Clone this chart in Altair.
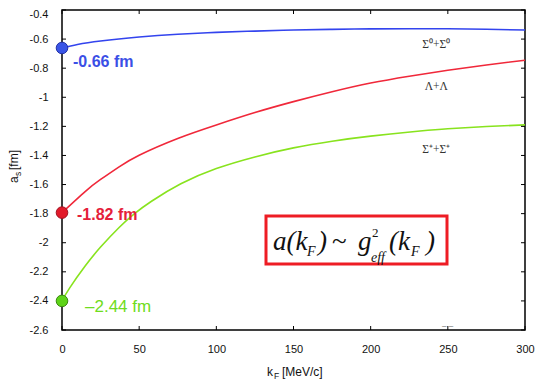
import altair as alt
import pandas as pd

# ---- data ----
series_names = ["Σ⁰+Σ⁰", "Λ+Λ", "Σ⁺+Σ⁺"]
series_colors = ["#3344ee", "#f0283a", "#88e31e"]

kf_blue = [0, 10, 25, 50, 75, 100, 125, 150, 175, 200, 225, 250, 275, 300]
a_blue = [-0.661, -0.637, -0.613, -0.586, -0.567, -0.554, -0.545, -0.538, -0.533, -0.530, -0.529, -0.529, -0.532, -0.538]

kf_red = [0, 15, 25, 37, 50, 75, 100, 125, 150, 175, 200, 225, 250, 275, 300]
a_red = [-1.793, -1.648, -1.565, -1.478, -1.398, -1.283, -1.19, -1.105, -1.03, -0.962, -0.902, -0.855, -0.814, -0.778, -0.745]

kf_green = [0, 5, 15, 25, 37, 47, 58, 77, 100, 125, 150, 175, 200, 232, 250, 275, 300]
a_green = [-2.40, -2.31, -2.16, -2.03, -1.895, -1.80, -1.715, -1.595, -1.49, -1.41, -1.348, -1.302, -1.267, -1.232, -1.216, -1.201, -1.19]

start_kf = [0, 0, 0]
start_a = [-0.661, -1.793, -2.40]
start_labels = ["-0.66 fm", "-1.82 fm", "\u20132.44 fm"]

x_ticks = [0, 50, 100, 150, 200, 250, 300]
y_ticks = [-0.4, -0.6, -0.8, -1.0, -1.2, -1.4, -1.6, -1.8, -2.0, -2.2, -2.4, -2.6]

# ---- tables ----
rows = []
for name, ks, vs in zip(series_names, [kf_blue, kf_red, kf_green], [a_blue, a_red, a_green]):
    for k, v in zip(ks, vs):
        rows.append({"series": name, "kF": k, "a": v})
curves = pd.DataFrame(rows)
starts = pd.DataFrame({"series": series_names, "kF": start_kf, "a": start_a, "label": start_labels})
xt = pd.DataFrame({"kF": x_ticks})
yt = pd.DataFrame({"a": y_ticks})
one = pd.DataFrame({"d": [0]})

W, H = 463, 320
SANS = "Liberation Sans"
SERIF = "Liberation Serif"

xscale = alt.Scale(domain=[0, 300], nice=False, zero=False)
yscale = alt.Scale(domain=[-2.6, -0.4], nice=False, zero=False)
color = alt.Color("series:N", scale=alt.Scale(domain=series_names, range=series_colors), legend=None)

xaxis = alt.Axis(values=x_ticks, ticks=False, domain=False, grid=False, title=None,
                 labelFont=SANS, labelFontSize=11, labelColor="#111", labelPadding=13,
                 labelOverlap=False, labelFlush=False,
                 labelExpr="replace(datum.label, '\u2212', '-')")
yaxis = alt.Axis(values=y_ticks, ticks=False, domain=False, grid=False, title=None,
                 labelFont=SANS, labelFontSize=11, labelColor="#111", labelPadding=14,
                 labelOverlap=False, labelFlush=False,
                 labelOffset={"condition": {"test": "datum.value > -0.45", "value": 4}, "value": 0},
                 format="~g", labelExpr="replace(datum.label, '\u2212', '-')")

X = alt.X("kF:Q", scale=xscale, axis=xaxis)
Y = alt.Y("a:Q", scale=yscale, axis=yaxis)

lines = alt.Chart(curves).mark_line(strokeWidth=1.6, interpolate="natural").encode(
    x=X, y=Y, color=color, detail="series:N")

pts = alt.Chart(starts).mark_point(filled=True, size=135, opacity=1, strokeWidth=1, shape="circle").encode(
    x=X, y=Y,
    fill=alt.Fill("series:N", scale=alt.Scale(domain=series_names, range=["#3a55e6", "#e21a2a", "#5ed418"]), legend=None),
    stroke=alt.Stroke("series:N", scale=alt.Scale(domain=series_names, range=["#2433a8", "#a01020", "#3a8a10"]), legend=None),
)

def start_label(i, dx, dy, size, weight, col):
    return alt.Chart(starts.iloc[[i]]).mark_text(
        align="left", baseline="alphabetic", dx=dx, dy=dy, fontSize=size, fontWeight=weight,
        font=SANS, color=col).encode(x=X, y=Y, text="label:N")

lab_blue = start_label(0, 11, 19, 16, "bold", "#3b4fe6")
lab_red = start_label(1, 15, 7, 16, "bold", "#e5203a")
lab_green = start_label(2, 23, 11.5, 17, "normal", "#6fdc20")

# series names (placed in data coordinates)
name_df = pd.DataFrame({"label": series_names, "kF": [242.5, 242.5, 242.5], "a": [-0.661, -0.95, -1.383]})
names = alt.Chart(name_df).mark_text(align="center", baseline="alphabetic", fontSize=11.5,
                                     font=SERIF, color="#333").encode(x=X, y=Y, text="label:N")

# inward ticks on the frame
tick_b = alt.Chart(xt).mark_rule(color="black", strokeWidth=1).encode(x=X, y=alt.value(H), y2=alt.value(H - 4))
tick_t = alt.Chart(xt).mark_rule(color="black", strokeWidth=1).encode(x=X, y=alt.value(0), y2=alt.value(4))
tick_l = alt.Chart(yt).mark_rule(color="black", strokeWidth=1).encode(y=Y, x=alt.value(0), x2=alt.value(4))
tick_r = alt.Chart(yt).mark_rule(color="black", strokeWidth=1).encode(y=Y, x=alt.value(W), x2=alt.value(W - 4))

def txt(s, x, y, size, col="#111", font=SANS, style="normal", weight="normal", angle=0, align="left"):
    kw = dict(text=s, align=align, baseline="alphabetic", fontSize=size, font=font,
              fontStyle=style, fontWeight=weight, color=col)
    if angle:
        kw["angle"] = angle
    return alt.Chart(one).mark_text(**kw).encode(x=alt.value(x), y=alt.value(y))

# formula box
box = alt.Chart(one).mark_rect(fill="white", stroke="#ee1c24", strokeWidth=3).encode(
    x=alt.value(204), x2=alt.value(385), y=alt.value(206), y2=alt.value(254))
formula = [
    txt("a(k", 211, 240, 27, "#111", SERIF, "italic"),
    txt("F", 245, 246, 14, "#111", SERIF, "italic"),
    txt(")", 256, 240, 27, "#111", SERIF, "italic"),
    txt("~", 270, 240, 27, "#111", SERIF),
    txt("g", 296, 240, 27, "#111", SERIF, "italic"),
    txt("2", 310, 227, 13, "#111", SERIF),
    txt("eff", 309, 252, 14, "#111", SERIF, "italic"),
    txt("(k", 327, 240, 27, "#111", SERIF, "italic"),
    txt("F", 349, 246, 14, "#111", SERIF, "italic"),
    txt(")", 364, 240, 27, "#111", SERIF, "italic"),
]

# axis titles
titles = [
    txt("k", 205, 366, 12),
    txt("F", 212, 369, 8.5),
    txt("[MeV/c]", 220, 366, 12),
    txt("a", -44, 173, 12, angle=270),
    txt("s", -41, 166, 8.5, angle=270),
    txt("[fm]", -44, 160, 12, angle=270),
    txt("\u2013  \u2013", 380, 318, 8, "#555"),
]

chart = alt.layer(
    lines, tick_b, tick_t, tick_l, tick_r, box, *formula, pts, lab_blue, lab_red, lab_green, names,
    *titles
).properties(
    width=W, height=H,
    autosize=alt.AutoSizeParams(type="none"),
    padding={"left": 54, "top": 2, "right": 12, "bottom": 50},
    background="white",
).configure_view(stroke="black", strokeWidth=1.5)

chart.save("out.html", embed_options={"renderer": "svg", "actions": False})
